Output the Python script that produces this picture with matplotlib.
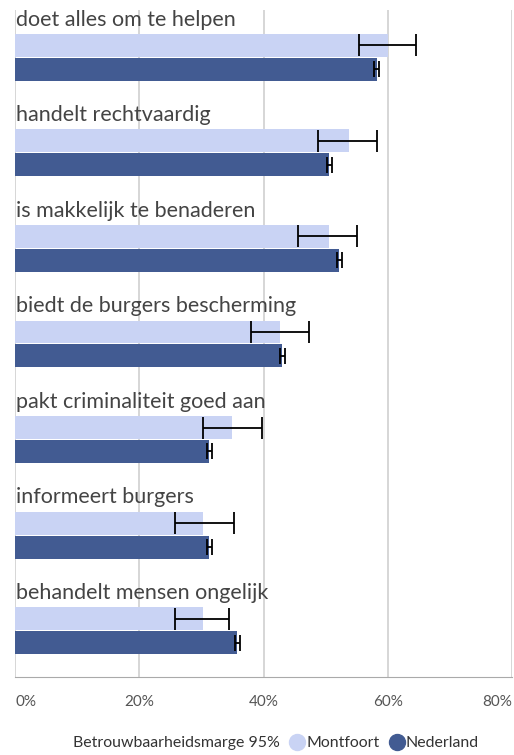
import numpy as np
import matplotlib.pyplot as plt
from matplotlib.lines import Line2D

# === DATA ===
categories = [
    "doet alles om te helpen",
    "handelt rechtvaardig",
    "is makkelijk te benaderen",
    "biedt de burgers bescherming",
    "pakt criminaliteit goed aan",
    "informeert burgers",
    "behandelt mensen ongelijk",
]
montfoort = [60.1, 53.7, 50.5, 42.7, 35.0, 30.3, 30.2]
montfoort_lo = [55.3, 48.8, 45.6, 38.0, 30.3, 25.7, 25.7]
montfoort_hi = [64.6, 58.3, 55.1, 47.4, 39.7, 35.2, 34.5]
nederland = [58.2, 50.6, 52.2, 43.0, 31.3, 31.3, 35.8]
nederland_err = [0.4, 0.4, 0.4, 0.4, 0.4, 0.4, 0.4]
ticks = [0, 20, 40, 60, 80]
tick_labels = ["0%", "20%", "40%", "60%", "80%"]

light = "#c9d3f4"
dark = "#425b92"
plt.rcParams['font.family'] = ['Lato', 'DejaVu Sans']

fig = plt.figure(figsize=(5.14, 7.55), dpi=100)
ax = fig.add_axes([15 / 514, 78 / 755, 497 / 514, 667 / 755])

y = np.arange(len(categories))
bh = 0.24
m = np.array(montfoort)
ax.barh(y, m, height=bh, color=light, zorder=2)
ax.barh(y + 0.25, nederland, height=bh, color=dark, zorder=2)
ax.errorbar(m, y, xerr=[m - np.array(montfoort_lo), np.array(montfoort_hi) - m],
            fmt='none', ecolor='black', elinewidth=1.3, capsize=8, capthick=1.3, zorder=3)
ax.errorbar(nederland, y + 0.25, xerr=nederland_err,
            fmt='none', ecolor='black', elinewidth=1.3, capsize=6, capthick=1.3, zorder=3)

for i, c in enumerate(categories):
    ax.text(0.15, i - 0.27, c, fontsize=15.5, color='#444444', va='center', ha='left')

ax.set_xlim(0, 80)
ax.set_ylim(6.61, -0.37)
ax.set_yticks([])
ax.set_xticks(ticks)
ax.set_xticklabels(tick_labels, fontsize=11, color='#555555')
lbls = ax.get_xticklabels()
lbls[0].set_ha('left')
lbls[-1].set_ha('right')
ax.tick_params(axis='x', length=0, pad=13)
ax.grid(axis='x', color='#d0d0d0', linewidth=1.2, zorder=0)
for s in ['top', 'right', 'left']:
    ax.spines[s].set_visible(False)
ax.spines['bottom'].set_color('#aaaaaa')

handles = [
    Line2D([], [], linestyle='none'),
    Line2D([], [], linestyle='none', marker='o', markersize=11.5, color=light),
    Line2D([], [], linestyle='none', marker='o', markersize=11.5, color=dark),
]
fig.legend(handles, ["Betrouwbaarheidsmarge 95%", "Montfoort", "Nederland"],
           loc='center', bbox_to_anchor=(0.522, 12 / 755), ncol=3, frameon=False,
           fontsize=11.4, handlelength=0.8, handletextpad=0.15, columnspacing=0.7,
           labelcolor='#333333')

fig.savefig("out.png", dpi=100)
